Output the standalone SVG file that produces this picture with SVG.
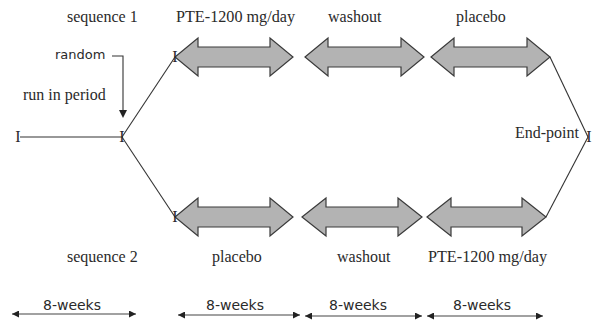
<svg xmlns="http://www.w3.org/2000/svg" width="593" height="324" viewBox="0 0 593 324">
<style>
.t{font-family:"Liberation Serif","Times New Roman",serif;font-size:16px;fill:#2a2a2a}
.c{font-family:"DejaVu Sans","Liberation Sans",sans-serif;fill:#2a2a2a}
.arr{fill:#b3b3b3;stroke:#3a3a3a;stroke-width:1.2;stroke-linejoin:miter}
.ln{stroke:#333;stroke-width:1.1;fill:none}
.dim{stroke:#444;stroke-width:1.2;fill:none;marker-start:url(#ah);marker-end:url(#ah)}
</style>
<defs>
<marker id="ah" viewBox="0 0 10 10" refX="10" refY="5" markerWidth="9" markerHeight="7" markerUnits="userSpaceOnUse" orient="auto-start-reverse">
<path d="M0,0 L10,5 L0,10 Z" fill="#222"/>
</marker>
</defs>
<rect width="593" height="324" fill="#fff"/>
<g id="connectors">
<line class="ln" x1="20" y1="137" x2="122" y2="137"/>
<line class="ln" x1="122" y1="137" x2="175" y2="57"/>
<line class="ln" x1="122" y1="137" x2="175" y2="217"/>
<line class="ln" x1="550" y1="57" x2="588" y2="137"/>
<line class="ln" x1="588" y1="137" x2="546" y2="217"/>
<path class="ln" d="M112,56 H123 V110"/>
<polygon points="119,110 127,110 123,118" fill="#222"/>
<line class="dim" x1="12" y1="314" x2="136" y2="314"/>
<line class="dim" x1="178" y1="315" x2="300" y2="315"/>
<line class="dim" x1="305" y1="316" x2="422" y2="316"/>
<line class="dim" x1="427" y1="316" x2="543" y2="316"/>
</g>
<g id="seq1-pte"><path class="arr" d="M175,57 L198,38 L198,47 L270,47 L270,38 L293,57 L270,76 L270,67 L198,67 L198,76 Z"/></g>
<g id="seq1-washout"><path class="arr" d="M305,57 L328,38 L328,47 L401,47 L401,38 L424,57 L401,76 L401,67 L328,67 L328,76 Z"/></g>
<g id="seq1-placebo"><path class="arr" d="M431,57 L454,38 L454,47 L527,47 L527,38 L550,57 L527,76 L527,67 L454,67 L454,76 Z"/></g>
<g id="seq2-placebo"><path class="arr" d="M175,217 L198,198 L198,207 L270,207 L270,198 L293,217 L270,236 L270,227 L198,227 L198,236 Z"/></g>
<g id="seq2-washout"><path class="arr" d="M302,217 L326,198 L326,207 L398,207 L398,198 L422,217 L398,236 L398,227 L326,227 L326,236 Z"/></g>
<g id="seq2-pte"><path class="arr" d="M427,217 L451,198 L451,207 L522,207 L522,198 L546,217 L522,236 L522,227 L451,227 L451,236 Z"/></g>
<g id="marks" class="t" text-anchor="middle">
<text x="18" y="142">I</text>
<text x="122" y="142">I</text>
<text x="175" y="62">I</text>
<text x="175" y="222">I</text>
<text x="589" y="142">I</text>
</g>
<g id="labels" class="t">
<text x="67" y="22">sequence 1</text>
<text x="176" y="22" textLength="119" lengthAdjust="spacingAndGlyphs">PTE-1200 mg/day</text>
<text x="328" y="22">washout</text>
<text x="456" y="22">placebo</text>
<text x="23" y="100">run in period</text>
<text x="515" y="138">End-point</text>
<text x="67" y="262">sequence 2</text>
<text x="212" y="262">placebo</text>
<text x="337" y="262">washout</text>
<text x="428" y="262" textLength="119" lengthAdjust="spacingAndGlyphs">PTE-1200 mg/day</text>
</g>
<g id="random-label"><text class="c" x="55" y="59" font-size="13">random</text></g>
<g id="durations" class="c" font-size="14" text-anchor="middle">
<text x="72" y="310">8-weeks</text>
<text x="235" y="310">8-weeks</text>
<text x="358" y="310">8-weeks</text>
<text x="482" y="310">8-weeks</text>
</g>
</svg>
